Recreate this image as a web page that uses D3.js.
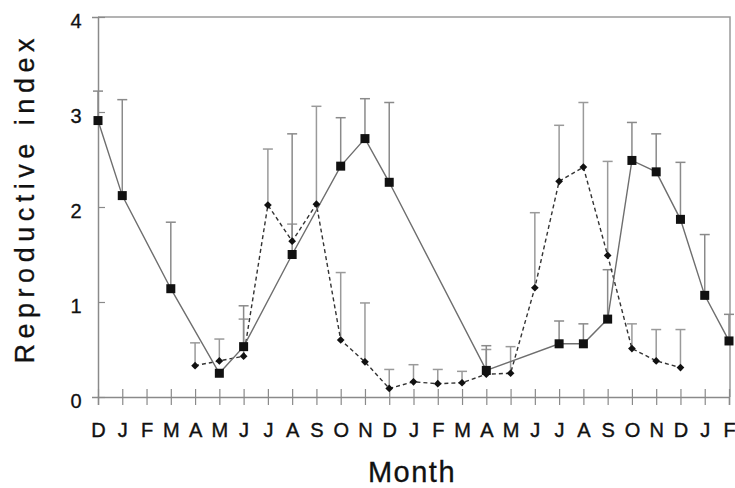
<!DOCTYPE html>
<html>
<head>
<meta charset="utf-8">
<script src="https://cdn.jsdelivr.net/npm/d3@7"></script>
<style>
  body { margin: 0; background: #fff; }
  text { font-family: Arial, "Liberation Sans", Helvetica, sans-serif; fill: #111; }
</style>
</head>
<body>
<div id="chart"></div>
<script>
// month labels along the x axis (Dec .. Feb, two and a bit years)
const months = ["D","J","F","M","A","M","J","J","A","S","O","N","D","J","F","M","A","M","J","J","A","S","O","N","D","J","F"];

// squares, solid line
const squareMean = [2.91, 2.12, null, 1.14, null, 0.25, 0.53, null, 1.50, null, 2.43, 2.72, 2.26, null, null, null, 0.28, null, null, 0.56, 0.56, 0.82, 2.49, 2.37, 1.87, 1.07, 0.59];
const squareUpper = [3.22, 3.13, null, 1.84, null, null, 0.96, null, 2.77, null, 2.94, 3.14, 3.10, null, null, null, 0.54, null, null, 0.80, 0.77, 1.34, 2.89, 2.77, 2.47, 1.71, 0.87];

// diamonds, dashed line
const diamondMean = [null, null, null, null, 0.33, 0.38, 0.43, 2.02, 1.64, 2.03, 0.60, 0.37, 0.09, 0.16, 0.14, 0.15, 0.24, 0.25, 1.15, 2.27, 2.42, 1.49, 0.51, 0.38, 0.31, null, null];
const diamondUpper = [null, null, null, null, 0.57, 0.61, 0.82, 2.61, 1.82, 3.06, 1.31, 0.99, 0.29, 0.34, 0.29, 0.27, 0.50, 0.53, 1.94, 2.86, 3.10, 2.48, 0.77, 0.71, 0.71, null, null];

const yTicks = [0, 1, 2, 3, 4];

const width = 735, height = 488;
const margin = {top: 17, right: 5, bottom: 91, left: 98};

const svg = d3.select("#chart").append("svg")
    .attr("width", width)
    .attr("height", height);

let x = d3.scaleLinear()
    .domain([0, months.length - 1])
    .range([margin.left, 729]);

let y = d3.scaleLinear()
    .domain([0, 4])
    .range([height - margin.bottom, margin.top]);

const axisColor = "#8a8a8a";

// frame (top and right)
svg.append("path")
    .attr("d", `M${x(0)},${y(4)} H730 V${y(0)}`)
    .attr("fill", "none")
    .attr("stroke", "#9a9a9a")
    .attr("stroke-width", 1.5);

// x axis with ticks crossing the line
let xAxis = svg.append("g")
    .attr("transform", `translate(0, ${y(0)})`)
    .call(d3.axisBottom(x)
        .tickValues(d3.range(months.length))
        .tickSize(8)
        .tickPadding(18)
        .tickFormat(i => months[i]));
xAxis.select(".domain").attr("stroke", axisColor).attr("stroke-width", 1.5);
xAxis.selectAll(".tick line").attr("y1", -8).attr("stroke", axisColor).attr("stroke-width", 1.2);
xAxis.selectAll(".tick text")
    .attr("font-size", "20px")
    .attr("fill", "#111")
    .attr("stroke", "#111")
    .attr("stroke-width", 0.4)
    .attr("font-family", "Arial, 'Liberation Sans', sans-serif");

// y axis
let yAxis = svg.append("g")
    .attr("transform", `translate(${x(0)}, 0)`)
    .call(d3.axisLeft(y)
        .tickValues(yTicks)
        .tickSize(6)
        .tickPadding(14)
        .tickFormat(d3.format("d")));
yAxis.select(".domain").attr("stroke", axisColor).attr("stroke-width", 1.5);
yAxis.selectAll(".tick line").attr("x2", 7).attr("stroke", axisColor).attr("stroke-width", 1.2);
yAxis.selectAll(".tick text")
    .attr("font-size", "20px")
    .attr("fill", "#111")
    .attr("stroke", "#111")
    .attr("stroke-width", 0.3)
    .attr("text-anchor", "middle")
    .attr("x", -22)
    .attr("dy", "0.5em")
    .attr("font-family", "Arial, 'Liberation Sans', sans-serif");

// axis titles
svg.append("text")
    .attr("x", 412)
    .attr("y", 482)
    .attr("text-anchor", "middle")
    .attr("font-size", "29px")
    .attr("letter-spacing", "1.5px")
    .attr("stroke", "#111")
    .attr("stroke-width", 0.3)
    .text("Month");

svg.append("text")
    .attr("transform", "translate(34, 201) rotate(-90)")
    .attr("text-anchor", "middle")
    .attr("font-size", "27px")
    .attr("textLength", 325)
    .attr("lengthAdjust", "spacing")
    .attr("stroke", "#111")
    .attr("stroke-width", 0.3)
    .text("Reproductive  index");

// error bars
function errorBars(mean, upper, color) {
    let idx = d3.range(months.length).filter(i => mean[i] != null && upper[i] != null);
    let g = svg.append("g");
    g.selectAll("line.bar")
        .data(idx)
        .enter().append("line")
        .attr("x1", i => x(i)).attr("x2", i => x(i))
        .attr("y1", i => y(mean[i])).attr("y2", i => y(upper[i]))
        .attr("stroke", color)
        .attr("stroke-width", 1.5);
    g.selectAll("line.cap")
        .data(idx)
        .enter().append("line")
        .attr("x1", i => x(i) - 5).attr("x2", i => x(i) + 5)
        .attr("y1", i => y(upper[i])).attr("y2", i => y(upper[i]))
        .attr("stroke", color)
        .attr("stroke-width", 1.5);
}
errorBars(diamondMean, diamondUpper, "#9a9a9a");
errorBars(squareMean, squareUpper, "#8a8a8a");

// lines
let lineGen = d3.line()
    .defined(d => d.v != null)
    .x(d => x(d.i))
    .y(d => y(d.v));

let sqPts = squareMean.map((v, i) => ({i, v})).filter(d => d.v != null);
let diPts = diamondMean.map((v, i) => ({i, v})).filter(d => d.v != null);

svg.append("path")
    .datum(diPts)
    .attr("d", lineGen)
    .attr("fill", "none")
    .attr("stroke", "#333")
    .attr("stroke-width", 1.4)
    .attr("stroke-dasharray", "4,3");

svg.append("path")
    .datum(sqPts)
    .attr("d", lineGen)
    .attr("fill", "none")
    .attr("stroke", "#6e6e6e")
    .attr("stroke-width", 1.4);

// markers
svg.selectAll("path.diamond")
    .data(diPts)
    .enter().append("path")
    .attr("class", "diamond")
    .attr("d", d3.symbol().type(d3.symbolDiamond2).size(38))
    .attr("transform", d => `translate(${x(d.i)}, ${y(d.v)})`)
    .attr("fill", "#111");

svg.selectAll("rect.square")
    .data(sqPts)
    .enter().append("rect")
    .attr("class", "square")
    .attr("x", d => x(d.i) - 4.5)
    .attr("y", d => y(d.v) - 4.5)
    .attr("width", 9)
    .attr("height", 9)
    .attr("fill", "#111");
</script>
</body>
</html>
